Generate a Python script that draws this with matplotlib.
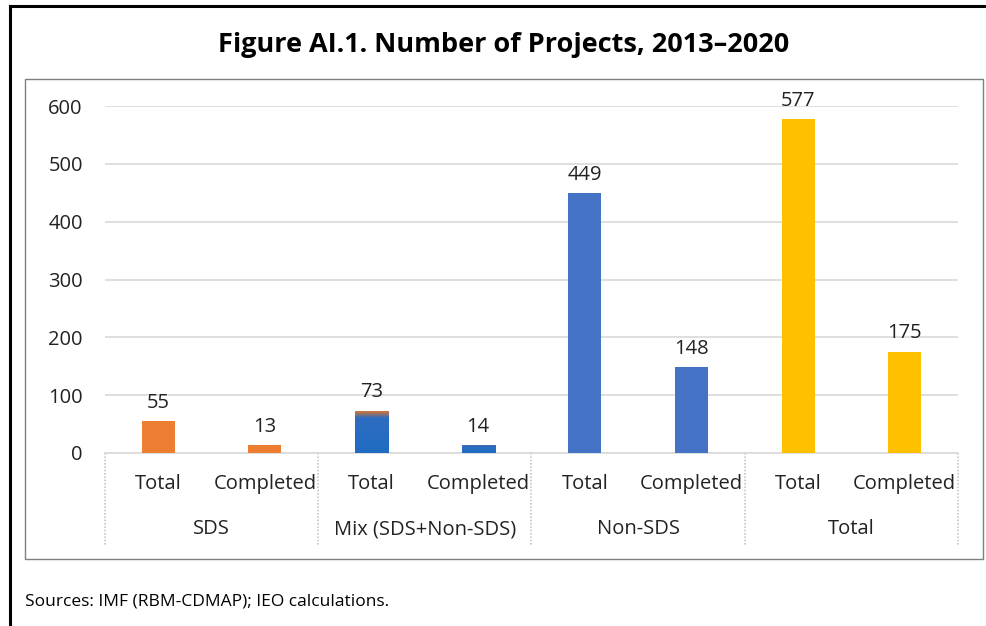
import matplotlib
matplotlib.use('Agg')
import matplotlib.pyplot as plt
import numpy as np
from matplotlib.colors import LinearSegmentedColormap
from matplotlib.lines import Line2D
from matplotlib.patches import Rectangle

# data
groups = ["SDS", "Mix (SDS+Non-SDS)", "Non-SDS", "Total"]
sub_labels = ["Total", "Completed"]
values = [55, 13, 73, 14, 449, 148, 577, 175]
group_colors = ["#ED7D31", "#1F6DC2", "#4472C4", "#FFC000"]

plt.rcParams['font.family'] = ['Open Sans', 'DejaVu Sans']

W, H = 987, 626
fig = plt.figure(figsize=(W / 100, H / 100), dpi=100)

def fx(px):
    return px / W

def fy(py):
    return 1 - py / H

# outer frame (black) and inner chart box (grey)
fig.add_artist(Line2D([fx(10), fx(10)], [fy(6), 0], color="black", lw=2.2))
fig.add_artist(Line2D([fx(10), 1], [fy(6), fy(6)], color="black", lw=2.2))
fig.add_artist(Rectangle((fx(25), fy(559)), fx(983) - fx(25), fy(79) - fy(559),
                         transform=fig.transFigure, fill=False, edgecolor="#7f7f7f", lw=1))

fig.text(fx(504), fy(45), "Figure AI.1. Number of Projects, 2013\u20132020",
         ha="center", va="center", fontsize=19.5, fontweight="bold")
fig.text(fx(25), fy(601), "Sources: IMF (RBM-CDMAP); IEO calculations.",
         ha="left", va="center", fontsize=12.5)

ax = fig.add_axes([fx(105), fy(453), fx(958) - fx(105), (453 - 106) / H])
x = np.arange(len(values))
colors = [group_colors[i // 2] for i in range(len(values))]
bw = 0.31
bars = ax.bar(x, values, width=bw, color=colors, zorder=3)

# mix bars: blue with orange blend at the top
cmap = LinearSegmentedColormap.from_list("mix", [(0, "#1F6DC2"), (0.82, "#2E6CC0"),
                                                 (0.92, "#9A7060"), (1, "#ED7D31")])
grad = np.linspace(0, 1, 200).reshape(-1, 1)
for i in (2, 3):
    b = bars[i]
    im = ax.imshow(grad, cmap=cmap, aspect="auto", origin="lower", zorder=4,
                   extent=[b.get_x(), b.get_x() + b.get_width(), 0, b.get_height()])
    im.set_clip_path(b)

for xi, v in zip(x, values):
    ax.annotate(str(v), (xi, v), xytext=(0, 6), textcoords="offset points",
                ha="center", va="bottom", fontsize=14.5, color="#222222")

ax.set_xlim(-0.5, 7.5)
ax.set_ylim(0, 600)
ax.set_yticks(range(0, 601, 100))
ax.tick_params(axis="y", length=0, pad=16, labelsize=14.5, labelcolor="#222222")
ax.yaxis.grid(True, color="#d9d9d9", lw=1.2, zorder=0)
for s in ["top", "right", "left"]:
    ax.spines[s].set_visible(False)
ax.spines["bottom"].set_color("#d9d9d9")
ax.spines["bottom"].set_linewidth(1.2)
ax.set_xticks([])

trans = ax.get_xaxis_transform()
axh = 453 - 106
for xi in x:
    ax.text(xi, -31 / axh, sub_labels[xi % 2], transform=trans, ha="center", va="center",
            fontsize=14.5, color="#222222")
for g, name in enumerate(groups):
    ax.text(2 * g + 0.5, -76 / axh, name, transform=trans, ha="center", va="center",
            fontsize=14.5, color="#222222")
for d in [-0.5, 1.5, 3.5, 5.5, 7.5]:
    ax.plot([d, d], [0, -92 / axh], transform=trans, color="#c8c8c8", lw=1.2,
            ls=(0, (1, 1)), clip_on=False)

fig.savefig("out.png", dpi=100)
